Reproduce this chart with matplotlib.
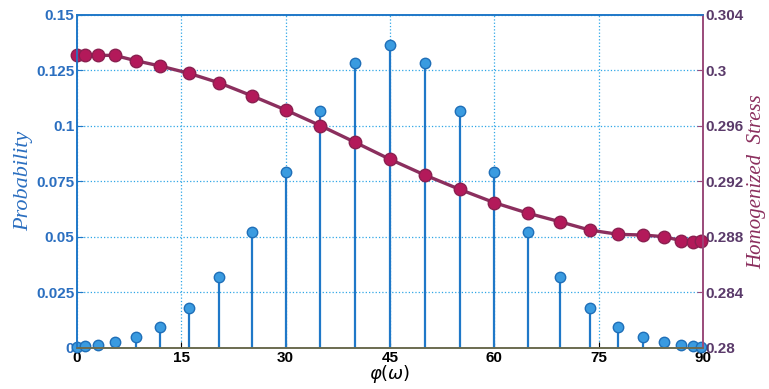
import matplotlib
matplotlib.use('Agg')
from matplotlib import pyplot as plt

# angle positions (degrees)
phi = [0, 1.1, 3.0, 5.4, 8.5, 12.0, 16.1, 20.4, 25.1, 30, 35, 40, 45,
       50, 55, 60, 64.9, 69.4, 73.7, 77.8, 81.4, 84.4, 86.9, 88.6, 89.7]

# probability of each angle (stems, left axis)
prob = [0.0005, 0.0009, 0.0013, 0.0026, 0.0051, 0.0093, 0.0179, 0.0321,
        0.0523, 0.0790, 0.1067, 0.1280, 0.1363, 0.1280, 0.1067, 0.0790,
        0.0523, 0.0321, 0.0179, 0.0093, 0.0051, 0.0026, 0.0013, 0.0009, 0.0005]

# homogenized stress (right axis)
stress = [0.30109, 0.30109, 0.30106, 0.30106, 0.30067, 0.30029, 0.29977,
          0.29909, 0.29816, 0.29713, 0.29600, 0.29480, 0.29358, 0.29245,
          0.29142, 0.29046, 0.28969, 0.28909, 0.28849, 0.28818, 0.28813,
          0.28801, 0.28772, 0.28765, 0.28770]

xticks = [0, 15, 30, 45, 60, 75, 90]
prob_ticks = [0, 0.025, 0.05, 0.075, 0.1, 0.125, 0.15]
prob_labels = ['0', '0.025', '0.05', '0.075', '0.1', '0.125', '0.15']
stress_ticks = [0.28, 0.284, 0.288, 0.292, 0.296, 0.3, 0.304]
stress_labels = ['0.28', '0.284', '0.288', '0.292', '0.296', '0.3', '0.304']

blue = '#1f78c8'
purple = '#8b2f5e'
tick_font = {'family': 'Liberation Sans', 'weight': 'bold', 'size': 11}

fig = plt.figure(figsize=(7.69, 3.89), dpi=100)
ax = fig.add_axes([0.1001, 0.1054, 0.8141, 0.8573])

markers, stems, base = ax.stem(phi, prob, basefmt=' ')
plt.setp(stems, color=blue, linewidth=1.6)
plt.setp(markers, markerfacecolor='#3a9be0', markeredgecolor='#1f6fb8',
         markersize=7.5, clip_on=False)

ax.set_xlim(0, 90)
ax.set_ylim(0, 0.15)
ax.set_xticks(xticks)
ax.set_xticklabels([str(t) for t in xticks], fontdict=tick_font)
ax.set_yticks(prob_ticks)
ax.set_yticklabels(prob_labels, fontdict=tick_font, color='#2b6fc0')
ax.tick_params(direction='in', length=4, pad=2)
ax.grid(True, linestyle=':', color='#2ea6e6', linewidth=0.9)
ax.set_axisbelow(True)

ax.set_xlabel(r'$\varphi(\omega)$', fontsize=13, labelpad=-1)
ax.set_ylabel('Probability', family='Liberation Serif',
              style='italic', fontsize=16, color='#2b6fc0', labelpad=2)

ax2 = ax.twinx()
ax2.plot(phi, stress, color=purple, linewidth=2.4, marker='o',
         markersize=9, markerfacecolor='#b3195a', markeredgecolor='#8a2050',
         clip_on=False)
ax2.set_ylim(0.28, 0.304)
ax2.set_yticks(stress_ticks)
ax2.set_yticklabels(stress_labels, fontdict=tick_font, color='#5a3a6a')
ax2.tick_params(direction='in', length=4, pad=2, colors='#9a4a7a',
                labelcolor='#5a3a6a')
ax2.set_ylabel('Homogenized  Stress', family='Liberation Serif',
               style='italic', fontsize=15, color='#8b2f5e', labelpad=2)

for a in (ax, ax2):
    a.spines['left'].set_color(blue)
    a.spines['top'].set_color(blue)
    a.spines['right'].set_color('#9a4a7a')
    a.spines['bottom'].set_color('#6b6b50')
    for s in a.spines.values():
        s.set_linewidth(1.2)
ax.tick_params(axis='y', colors=blue, labelcolor='#2b6fc0')

fig.savefig('out.png', dpi=100)
